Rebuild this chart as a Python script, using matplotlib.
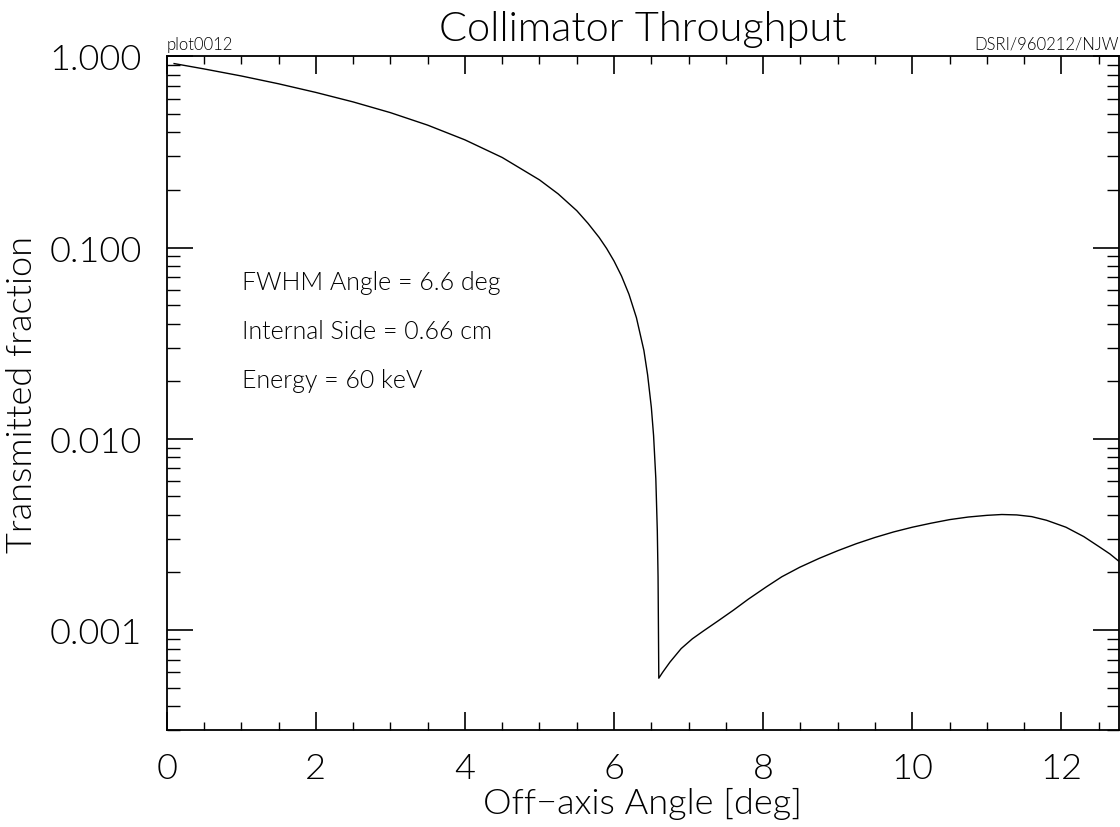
import matplotlib.pyplot as plt
import numpy as np
from matplotlib.ticker import MultipleLocator, LogLocator, NullFormatter

plt.rcParams['font.family'] = ['Lato', 'DejaVu Sans']
plt.rcParams['font.weight'] = 300
plt.rcParams['axes.labelweight'] = 300

# off-axis angle [deg] and transmitted fraction
angle = [0.1, 0.5, 1.0, 1.5, 2.0, 2.5, 3.0, 3.5, 4.0, 4.5, 5.0, 5.25, 5.5,
         5.65, 5.8, 5.9, 6.0, 6.1, 6.2, 6.3, 6.4, 6.45, 6.5, 6.53, 6.56,
         6.58, 6.59, 6.6, 6.65, 6.75, 6.9, 7.05, 7.2, 7.4, 7.6, 7.8, 8.04,
         8.25, 8.49, 8.75, 9.0, 9.25, 9.5, 9.75, 10.0, 10.25, 10.5, 10.75,
         11.0, 11.2, 11.4, 11.6, 11.8, 12.06, 12.3, 12.51, 12.65, 12.77]
frac = [0.917, 0.860, 0.790, 0.719, 0.648, 0.578, 0.508, 0.437, 0.366,
        0.296, 0.226, 0.191, 0.156, 0.134, 0.113, 0.099, 0.085, 0.071,
        0.057, 0.043, 0.029, 0.0216, 0.0146, 0.0104, 0.0062, 0.0033,
        0.0019, 0.00056, 0.00060, 0.00068, 0.00080, 0.00090, 0.00099,
        0.00112, 0.00127, 0.00145, 0.00168, 0.00190, 0.00213, 0.00237,
        0.00260, 0.00283, 0.00305, 0.00326, 0.00345, 0.00362, 0.00378,
        0.00390, 0.00398, 0.00402, 0.00400, 0.00392, 0.00375, 0.00345,
        0.00308, 0.00272, 0.00250, 0.00229]

yticks = [1e-3, 1e-2, 1e-1, 1.0]
yticklabels = ['0.001', '0.010', '0.100', '1.000']
xticks = [0, 2, 4, 6, 8, 10, 12]

fig = plt.figure(figsize=(11.2, 8.28), dpi=100)
ax = fig.add_axes([0.1488, 0.1171, 0.8502, 0.8136])

ax.plot(angle, frac, color='black', lw=1.0)
ax.set_yscale('log')
ax.set_xlim(0, 12.77)
ax.set_ylim(3e-4, 1.0)

ax.set_xticks(xticks)
ax.set_xticklabels([str(t) for t in xticks])
ax.xaxis.set_minor_locator(MultipleLocator(0.5))
ax.set_yticks(yticks)
ax.set_yticklabels(yticklabels)
ax.yaxis.set_minor_locator(LogLocator(base=10, subs=np.arange(2, 10)))
ax.yaxis.set_minor_formatter(NullFormatter())

ax.tick_params(which='both', direction='in', top=True, right=True, colors='black')
ax.tick_params(axis='x', which='major', length=13, width=1.2, labelsize=26, pad=16)
ax.tick_params(axis='x', which='minor', length=6, width=1.0)
ax.tick_params(axis='y', which='major', length=19, width=1.2, labelsize=26, pad=18)
ax.tick_params(axis='y', which='minor', length=9, width=1.0)
for s in ax.spines.values():
    s.set_linewidth(1.3)

ax.set_xlabel('Off\u2212axis Angle [deg]', fontsize=26, labelpad=2)
ax.set_ylabel('Transmitted fraction', fontsize=26, labelpad=8)

fig.text(0.574, 0.964, 'Collimator Throughput', fontsize=30, ha='center', va='center')
fig.text(0.1488, 0.946, 'plot0012', fontsize=12, ha='left', va='center')
fig.text(0.999, 0.946, 'DSRI/960212/NJW', fontsize=12, ha='right', va='center')

notes = ['FWHM Angle = 6.6 deg', 'Internal Side = 0.66 cm', 'Energy = 60 keV']
for i, t in enumerate(notes):
    ax.text(0.079, 0.665 - 0.0727 * i, t, transform=ax.transAxes,
            fontsize=18, ha='left', va='center')

fig.savefig('out.png', dpi=100)
